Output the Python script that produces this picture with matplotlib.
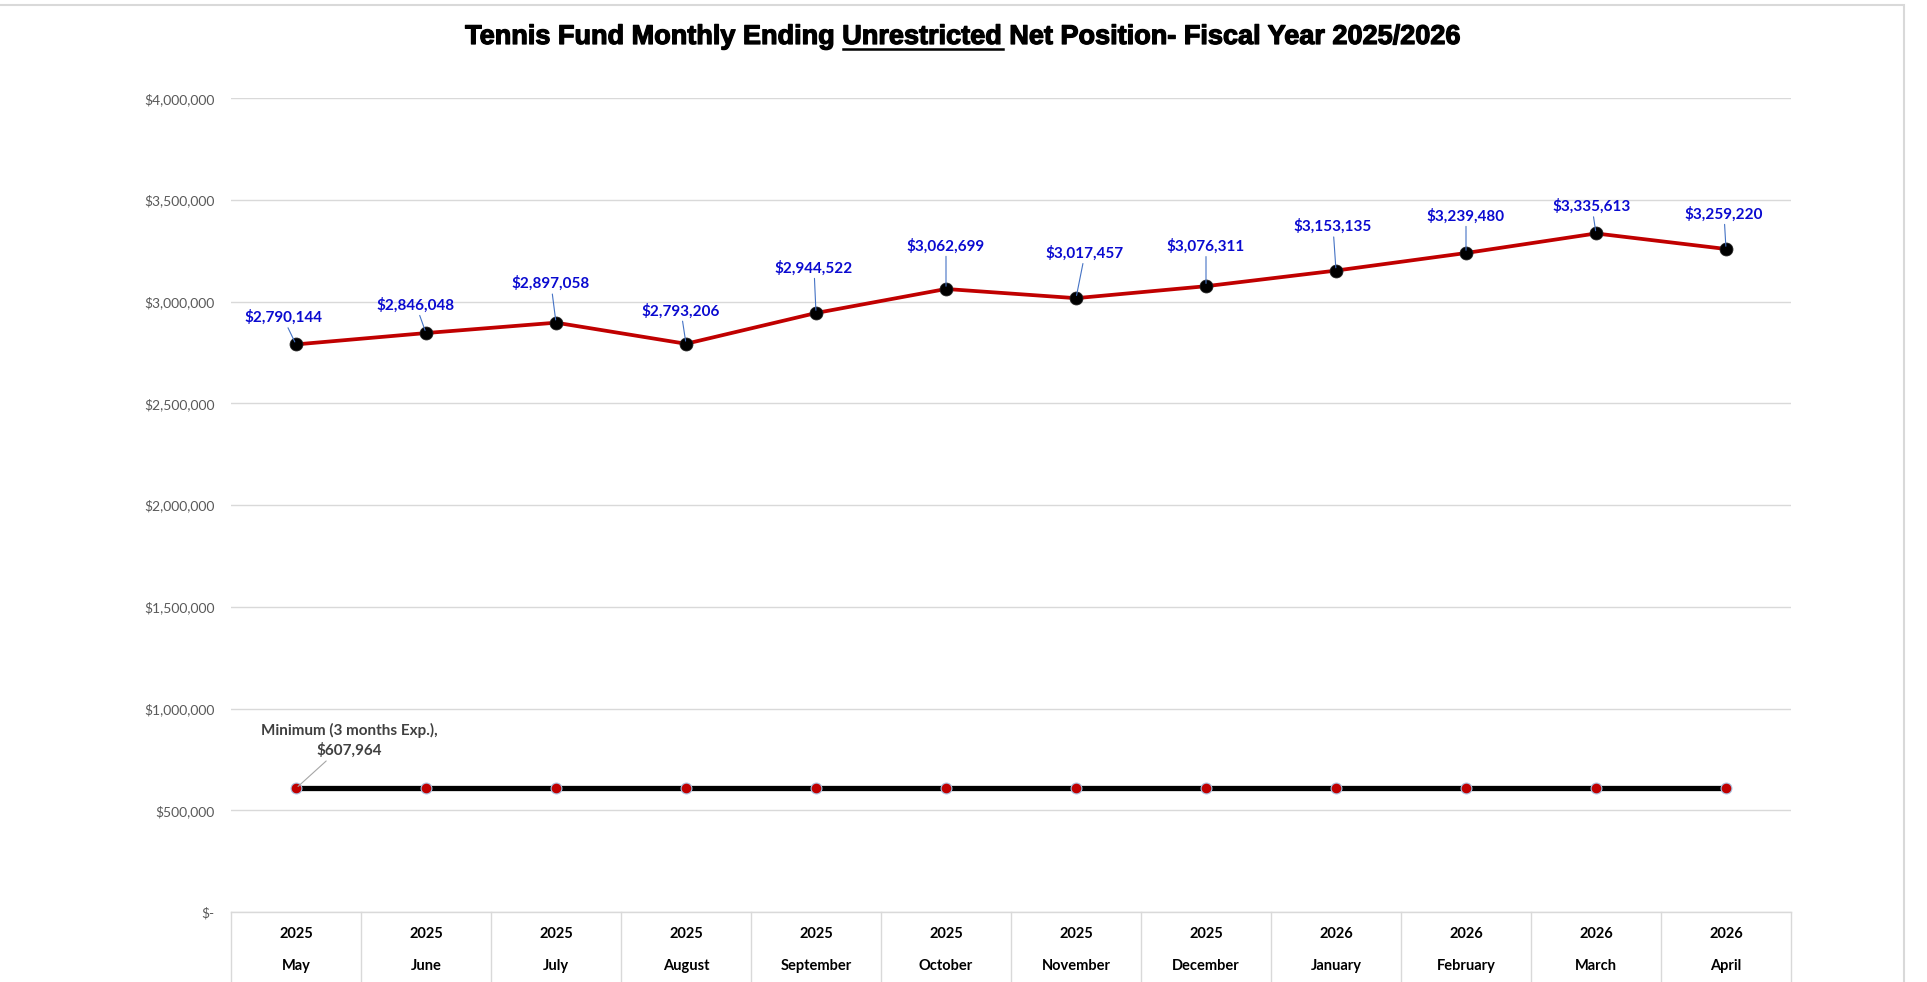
import numpy as np
import matplotlib
matplotlib.use('Agg')
import matplotlib.pyplot as plt
import matplotlib.patheffects as pe
from matplotlib.patches import Rectangle
from matplotlib.ticker import FuncFormatter

years = ['2025', '2025', '2025', '2025', '2025', '2025', '2025', '2025',
         '2026', '2026', '2026', '2026']
months = ['May', 'June', 'July', 'August', 'September', 'October', 'November',
          'December', 'January', 'February', 'March', 'April']
net_position = [2790144, 2846048, 2897058, 2793206, 2944522, 3062699,
                3017457, 3076311, 3153135, 3239480, 3335613, 3259220]
minimum = [607964] * 12
min_label = 'Minimum (3 months Exp.),'

title_pre = 'Tennis Fund Monthly Ending '
title_word = 'Unrestricted'
title_post = ' Net Position- Fiscal Year 2025/2026'

plt.rcParams['font.family'] = ['Lato', 'DejaVu Sans']

fig = plt.figure(figsize=(19.27, 9.82), dpi=100)
ax = fig.add_axes([231 / 1927, 70 / 982, 1560 / 1927, 813.7 / 982])

x = np.arange(len(months))

# minimum reserve line
ax.plot(x, minimum, color='black', lw=3.8, zorder=3, solid_capstyle='butt')
ax.plot(x, minimum, ls='none', marker='o', ms=7.8, mfc='#C00000',
        mec='#A9C4E4', mew=0.8, zorder=4)

# net position line
ax.plot(x, net_position, color='#C00000', lw=2.7, zorder=5)
ax.plot(x, net_position, ls='none', marker='o', ms=9.3, mfc='black',
        mec='#202020', mew=0.6, zorder=6)

# data labels with leader lines (pixel offsets)
dx = [-13, -10, -5, -5, -2, 0, 9, 0, -3, 0, -4, -2]
dy = [27, 28, 39, 33, 45, 43, 45, 40, 44, 37, 27, 35]
for i, v in enumerate(net_position):
    ax.annotate('${:,.0f}'.format(v), xy=(i, v), xytext=(dx[i], dy[i]),
                textcoords='offset pixels', ha='center', va='center',
                fontsize=11, fontweight='bold', color='#0A0AD0', zorder=7,
                arrowprops=dict(arrowstyle='-', color='#4472C4', lw=0.8,
                                shrinkA=0, shrinkB=2))

ax.annotate(min_label + '\n${:,.0f}'.format(minimum[0]), xy=(0, minimum[0]),
            xytext=(53, 48), textcoords='offset pixels', ha='center',
            va='center', fontsize=11, fontweight='bold', color='#404040',
            linespacing=1.45, zorder=7,
            arrowprops=dict(arrowstyle='-', color='#A6A6A6', lw=0.8,
                            shrinkA=0, shrinkB=2))

ax.set_xlim(-0.5, len(months) - 0.5)
ax.set_ylim(0, 4000000)
ax.set_yticks(np.arange(0, 4000001, 500000))
ax.yaxis.set_major_formatter(FuncFormatter(
    lambda v, p: '$-' if v == 0 else '${:,.0f}'.format(v)))
ax.tick_params(axis='y', length=0, pad=12, labelsize=10, labelcolor='#595959')
ax.set_xticks([])
ax.grid(axis='y', color='#D9D9D9', lw=1)
ax.set_axisbelow(True)
for s in ['top', 'right', 'left']:
    ax.spines[s].set_visible(False)
ax.spines['bottom'].set_color('#D9D9D9')
ax.spines['bottom'].set_linewidth(1)

# two-level category axis drawn as a table
trans = ax.get_xaxis_transform()
for b in np.arange(-0.5, len(months), 1.0):
    ax.plot([b, b], [0, -0.1], transform=trans, color='#D9D9D9', lw=1,
            clip_on=False)
for i in range(len(months)):
    ax.text(i, -0.027, years[i], transform=trans, ha='center', va='center',
            fontsize=10.5, fontweight='bold', color='black')
    ax.text(i, -0.0664, months[i], transform=trans, ha='center', va='center',
            fontsize=10.5, fontweight='bold', color='black')

# title with underlined word
tfont = dict(family=['Liberation Sans Narrow', 'Liberation Sans'],
             fontsize=19.5, fontweight='bold', color='black')
full = title_pre + title_word + title_post
t = fig.text(0.5, 1 - 37 / 982, full, ha='center', va='center', **tfont)
t.set_path_effects([pe.withStroke(linewidth=0.9, foreground='black')])
fig.canvas.draw()
r = fig.canvas.get_renderer()
bb = t.get_window_extent(r)
tmp = fig.text(0, 0, title_pre + title_word, **tfont)
w1 = tmp.get_window_extent(r).width
tmp.set_text(title_word)
w2 = tmp.get_window_extent(r).width
tmp.remove()
x1 = (bb.x0 + w1 - w2) / fig.bbox.width
x2 = (bb.x0 + w1) / fig.bbox.width
yu = (982 - 49) / 982
fig.add_artist(plt.Line2D([x1, x2], [yu, yu], color='black', lw=1.8,
                          transform=fig.transFigure))

# outer chart border
fig.add_artist(Rectangle((-0.01, -0.01), 0.005 + 1914 / 1927, 1.01 - 5 / 982,
                         transform=fig.transFigure, fill=False,
                         edgecolor='#D9D9D9', lw=1.5))

fig.savefig('out.png', dpi=100)
